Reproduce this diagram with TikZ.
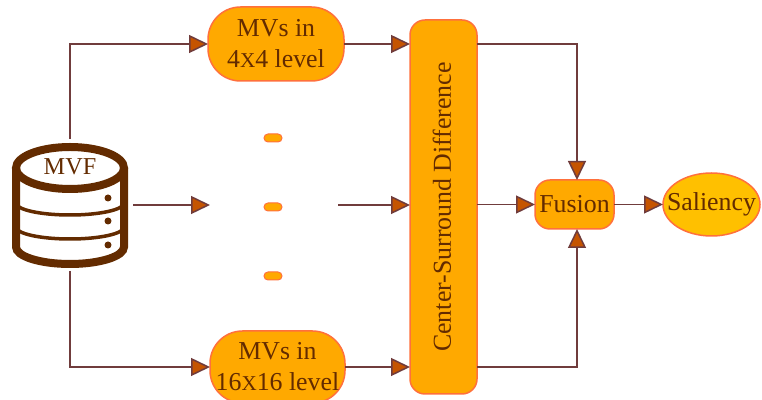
\documentclass[tikz,border=0pt]{standalone}
\usepackage{fontspec}
\setmainfont{Liberation Serif}
\usetikzlibrary{arrows.meta,shapes.geometric,positioning}
\definecolor{mvbrown}{RGB}{99,43,0}
\definecolor{mvline}{RGB}{112,60,60}
\definecolor{mvtip}{RGB}{197,84,0}
\definecolor{mvorange}{RGB}{255,169,0}
\definecolor{mvyellow}{RGB}{255,192,0}
\definecolor{mvborder}{RGB}{255,112,60}
\newcommand{\smallx}{{\fontsize{12}{12}\selectfont X}}
\tikzstyle{flow} = [line width=.03cm,color=mvline,-{Triangle[length=.38cm,width=.36cm,fill=mvtip]}]
\tikzstyle{block} = [rectangle, draw=mvborder, fill=mvorange, line width=.03cm, inner sep=0pt, outer sep=0pt, align=center, text=mvbrown, font=\fontsize{14.7}{17.6}\selectfont]
\tikzstyle{gapdot} = [rectangle, rounded corners=.08cm, minimum width=.36cm, minimum height=.16cm, draw=mvborder, fill=mvorange, line width=.02cm, inner sep=0pt]
\tikzstyle{dbline} = [color=mvbrown, line width=.16cm]
\tikzstyle{dbthin} = [color=mvbrown, line width=.07cm]
\begin{document}
\begin{tikzpicture}
\useasboundingbox (0,0) rectangle (15.24,8);
\clip (0,0) rectangle (15.24,8);

% Database
\node[minimum width=2.52cm, minimum height=2.64cm, inner sep=0pt, outer sep=0pt] (mvf) at (1.40,3.90) {};
\draw[dbline] (1.40,4.64) ellipse [x radius=1.08, y radius=.42];
\draw[dbline] (.32,4.64) -- (.32,3.06) arc[start angle=180, end angle=360, x radius=1.08, y radius=.34] -- (2.48,4.64);
\draw[dbthin] (.32,3.94) arc[start angle=180, end angle=360, x radius=1.08, y radius=.24];
\draw[dbthin] (.32,3.46) arc[start angle=180, end angle=360, x radius=1.08, y radius=.24];
\foreach \y in {4.04,3.58,3.10} {
  \fill[mvbrown] (2.16,\y) circle (.07);
}
\node[text=mvbrown, inner sep=0pt, font=\fontsize{13.8}{17.6}\selectfont] (mvflabel) at (1.40,4.66) {MVF};

% Levels
\node[block, rounded corners=.65cm, minimum width=2.72cm, minimum height=1.48cm] (mvtop) at (5.52,7.12) {MVs in\\4\smallx4 level};
\node[block, rounded corners=.65cm, minimum width=2.70cm, minimum height=1.44cm] (mvbot) at (5.55,.66) {MVs in\\16\smallx16 level};
\node[gapdot] (dota) at (5.46,5.24) {};
\node[gapdot] (dotb) at (5.46,3.86) {};
\node[gapdot] (dotc) at (5.46,2.48) {};
\coordinate (midin) at (4.20,3.90);
\coordinate (midout) at (6.76,3.90);

% Difference and fusion
\node[block, rounded corners=.3cm, minimum width=1.34cm, minimum height=7.48cm] (csd) at (8.87,3.86) {\rotatebox{90}{Center-Surround Difference}\hspace{.06cm}};
\node[block, rounded corners=.3cm, minimum width=1.58cm, minimum height=.98cm] (fusion) at (11.49,3.91) {Fusion};
\node[block, ellipse, fill=mvyellow, minimum width=1.94cm, minimum height=1.26cm] (saliency) at (14.23,3.91) {\makebox[0pt]{Saliency}};

% Flows
\draw[flow] (mvf.north) |- (mvtop);
\draw[flow] (mvf.east) -- (midin);
\draw[flow] (mvf.south) |- (mvbot);
\draw[flow] (mvtop) -- (mvtop -| csd.west);
\draw[flow] (midout) -- (midout -| csd.west);
\draw[flow] (mvbot) -- (mvbot -| csd.west);
\draw[flow] (csd.east |- mvtop) -| ([xshift=.05cm]fusion.north);
\draw[flow] (csd.east |- fusion.west) -- (fusion.west);
\draw[flow] (csd.east |- mvbot) -| ([xshift=.05cm]fusion.south);
\draw[flow] (fusion) -- (saliency);
\end{tikzpicture}
\end{document}
